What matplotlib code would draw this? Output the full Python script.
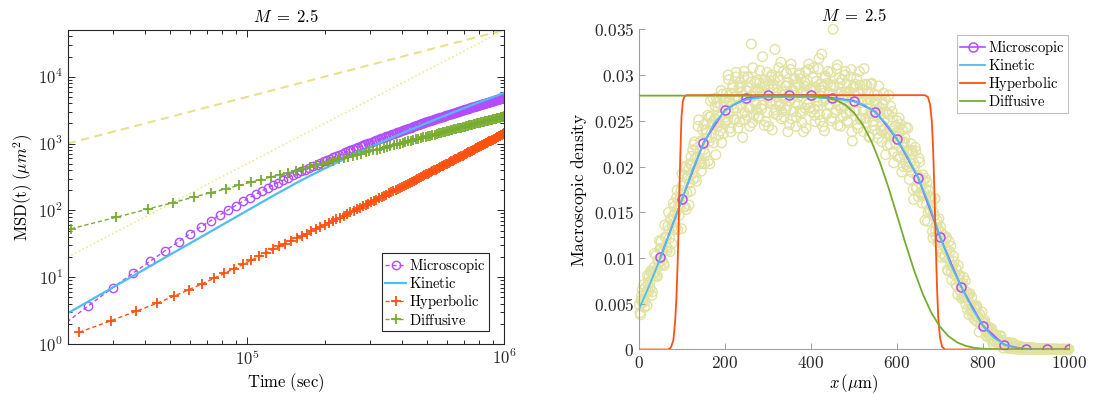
import numpy as np
import matplotlib
matplotlib.use("Agg")
import matplotlib.pyplot as plt
from matplotlib.ticker import FixedLocator, FuncFormatter, LogLocator, NullFormatter

plt.rcParams['mathtext.fontset'] = 'cm'
plt.rcParams['axes.formatter.use_mathtext'] = True

# ---------------- left panel: MSD(t), log-log ----------------
# microscopic MSD, sampled every 6000 s starting at k = 3
micro_dt, micro_k0 = 6000, 3
micro_msd = [1.6, 3.7, 7.0, 11.6, 17.5, 25, 34, 45, 57, 70,
             85, 101, 118, 136, 155, 175, 196, 217, 240, 261,
             284, 308, 333, 358, 383, 408, 433, 459, 485, 512,
             540, 567, 594, 622, 650, 679, 708, 738, 768, 798,
             827, 856, 885, 915, 945, 975, 1005, 1037, 1068, 1099,
             1131, 1161, 1191, 1221, 1252, 1283, 1314, 1345, 1377, 1408,
             1440, 1473, 1505, 1537, 1570, 1602, 1635, 1668, 1701, 1734,
             1767, 1801, 1834, 1868, 1902, 1936, 1971, 2005, 2040, 2075,
             2110, 2143, 2176, 2208, 2241, 2274, 2307, 2340, 2373, 2406,
             2439, 2472, 2506, 2539, 2573, 2607, 2640, 2674, 2708, 2743,
             2777, 2811, 2845, 2878, 2911, 2944, 2976, 3009, 3042, 3075,
             3108, 3141, 3174, 3207, 3240, 3274, 3307, 3340, 3374, 3407,
             3441, 3475, 3508, 3542, 3575, 3609, 3643, 3677, 3711, 3745,
             3778, 3811, 3843, 3876, 3909, 3942, 3975, 4007, 4041, 4073,
             4106, 4139, 4172, 4205, 4239, 4272, 4305, 4338, 4372, 4405,
             4438, 4472, 4505, 4539, 4572, 4606, 4639, 4673, 4706, 4740,
             4773, 4808, 4841, 4875]

# hyperbolic MSD, every 7400 s starting at k = 3
hyper_dt, hyper_k0 = 7400, 3
hyper_msd = [1.5, 2.25, 3.1, 4.07, 5.2, 6.5, 7.95, 9.6, 11.4, 13.4,
             15.6, 18.0, 20.5, 23.2, 26.0, 28.9, 31.8, 34.8, 38.1, 41.5,
             45.0, 48.7, 52.4, 56.4, 60.5, 64.7, 69.1, 73.5, 78.2, 83.0,
             87.9, 93.0, 98.2, 103.6, 109.1, 114.8, 120.6, 126.5, 132.6, 138.8,
             145.2, 151.7, 158.4, 165.3, 172.3, 179.4, 186.7, 194.2, 201.9, 209.7,
             217.6, 225.7, 233.9, 242.3, 250.7, 259.4, 268.1, 277.0, 286.2, 295.5,
             305.0, 314.6, 324.4, 334.4, 344.4, 354.7, 365.0, 375.5, 386.0, 397.0,
             408.0, 419.2, 430.5, 442.0, 453.7, 465.5, 477.4, 489.5, 501.7, 514.2,
             526.9, 539.7, 552.6, 565.7, 578.9, 592.3, 605.9, 619.6, 633.6, 647.7,
             662.0, 676.4, 691.0, 705.7, 720.7, 735.7, 751.0, 766.4, 782.0, 797.8,
             813.8, 829.9, 846.2, 862.6, 879.2, 896.0, 912.9, 930.3, 947.7, 965.2,
             982.9, 1000.7, 1018.8, 1036.9, 1055.2, 1073.7, 1092.4, 1111.0, 1130.1, 1149.4,
             1168.9, 1188.5, 1208.3, 1228.3, 1248.4, 1268.8, 1289.3, 1310.0, 1330.8, 1351.7,
             1372.9, 1394.3, 1415.7]

# diffusive MSD, every 10300 s starting at k = 2
diff_dt, diff_k0 = 10300, 2
diff_msd = [53, 79, 105, 131, 158, 184, 210, 236, 263, 289,
            315, 342, 368, 394, 420, 447, 473, 499, 525, 552,
            578, 604, 631, 657, 683, 709, 736, 762, 788, 814,
            841, 867, 893, 920, 946, 972, 998, 1025, 1051, 1077,
            1103, 1130, 1156, 1182, 1208, 1235, 1261, 1287, 1314, 1340,
            1366, 1392, 1419, 1445, 1471, 1497, 1524, 1550, 1576, 1602,
            1629, 1655, 1681, 1708, 1734, 1760, 1786, 1813, 1839, 1865,
            1891, 1918, 1944, 1970, 1997, 2023, 2049, 2075, 2102, 2128,
            2154, 2180, 2207, 2233, 2259, 2286, 2312, 2338, 2364, 2391,
            2417, 2443, 2469, 2496, 2522, 2548]

# kinetic MSD (solid curve)
kin_time = [2e4, 25119, 31623, 39811, 50119, 63096, 79433, 1e5, 125893,
            158489, 199526, 251189, 316228, 398107, 501187, 630957, 794328, 1e6]
kin_msd = [2.88, 4.77, 7.91, 13.1, 21.8, 36.1, 60.0, 99.5, 165,
           269, 422, 646, 966, 1413, 2042, 2917, 4121, 5754]

# guide lines ~t and ~t^2
guide_time = [2e4, 1e6]
guide_lin = [1e3, 5e4]
guide_quad = [20, 5e4]

# ---------------- right panel: density profile ----------------
micro_x = [50, 100, 150, 200, 250, 300, 350, 400, 450, 500,
           550, 600, 650, 700, 750, 800, 850, 900, 950, 1000]
micro_rho = [0.0101, 0.0164, 0.0226, 0.0262, 0.0275, 0.0278, 0.0278, 0.0278, 0.0275, 0.0272,
             0.0260, 0.0230, 0.0187, 0.0123, 0.0068, 0.0026, 0.0005, 0.0, 0.0, 0.0]

kin_x = [0, 25, 50, 75, 100, 125, 150, 175, 200, 225, 250, 275, 300,
         350, 400, 450, 475, 500, 525, 550, 575, 600, 625, 650, 675, 700,
         725, 750, 775, 800, 825, 850, 875, 900, 950, 1000]
kin_rho = [0.0044, 0.0071, 0.0100, 0.0132, 0.0164, 0.0197, 0.0225, 0.0247, 0.0261, 0.0269,
           0.0273, 0.0275, 0.0276, 0.0276, 0.0276, 0.0274, 0.0273, 0.0271, 0.0267, 0.0259,
           0.0247, 0.0230, 0.0210, 0.0187, 0.0158, 0.0124, 0.0093, 0.0068, 0.0045, 0.0026,
           0.0013, 0.00055, 0.0002, 0.00007, 0.00001, 0.0]

hyp_x = [0, 68, 74, 80, 84, 87, 90, 93, 96, 99, 102, 105, 110,
         665, 672, 677, 681, 684, 687, 690, 693, 696, 700, 705, 712, 1000]
hyp_rho = [0, 0, 0.0002, 0.001, 0.003, 0.0055, 0.0095, 0.015, 0.021, 0.0255, 0.0271, 0.0276, 0.0278,
           0.0278, 0.0276, 0.0268, 0.025, 0.022, 0.0175, 0.012, 0.007, 0.0035, 0.0013, 0.0003, 0, 0]

dif_x = [0, 400, 430, 460, 480, 500, 520, 540, 560, 580, 600, 620,
         640, 660, 680, 700, 720, 740, 760, 780, 800, 850, 900, 1000]
dif_rho = [0.02775, 0.02775, 0.02762, 0.02724, 0.02673, 0.02589, 0.02461, 0.02282, 0.02051,
           0.01774, 0.01468, 0.01156, 0.00863, 0.00607, 0.00401, 0.00249, 0.00144, 0.00078,
           0.00039, 0.00018, 0.00008, 0.00001, 0, 0]

# raw particle histogram (units of 1e-4), two interleaved samplings every 2.5 um
cloud_step = 2.5
cloud_a_x0 = 1.25
cloud_a_e4 = [49, 38, 59, 51, 71, 53, 62, 48, 72, 80,
              67, 84, 63, 83, 105, 85, 80, 98, 95, 110,
              118, 97, 108, 92, 123, 122, 111, 150, 122, 142,
              116, 146, 156, 139, 133, 174, 156, 147, 165, 132,
              179, 171, 156, 198, 171, 190, 158, 203, 211, 192,
              186, 227, 209, 184, 210, 251, 208, 228, 203, 227,
              246, 214, 240, 231, 206, 254, 272, 232, 249, 226,
              252, 213, 270, 265, 248, 239, 283, 258, 236, 272,
              254, 280, 251, 295, 272, 238, 268, 289, 264, 251,
              303, 264, 274, 249, 287, 281, 232, 298, 259, 273,
              256, 298, 286, 264, 334, 248, 280, 270, 292, 262,
              285, 255, 305, 277, 267, 291, 245, 295, 279, 259,
              244, 284, 272, 300, 290, 258, 328, 270, 276, 298,
              294, 266, 252, 282, 304, 274, 262, 288, 238, 280,
              272, 312, 284, 260, 278, 296, 254, 268, 290, 302,
              296, 248, 280, 288, 264, 242, 294, 306, 270, 284,
              260, 282, 308, 256, 286, 276, 266, 318, 250, 290,
              287, 271, 239, 297, 257, 291, 281, 267, 303, 253,
              350, 287, 275, 262, 311, 267, 297, 244, 281, 274,
              278, 300, 258, 290, 248, 282, 270, 306, 228, 288,
              261, 270, 296, 242, 281, 289, 253, 272, 262, 307,
              290, 248, 273, 280, 232, 259, 291, 249, 262, 240,
              256, 278, 231, 264, 257, 239, 268, 280, 241, 213,
              259, 237, 278, 224, 234, 260, 216, 234, 244, 237,
              211, 238, 229, 246, 194, 226, 213, 231, 243, 200,
              216, 186, 218, 194, 217, 164, 200, 217, 177, 190,
              209, 186, 170, 160, 185, 171, 187, 159, 140, 174,
              152, 167, 157, 122, 146, 165, 123, 141, 131, 119,
              134, 101, 116, 118, 101, 121, 108, 86, 118, 92,
              85, 92, 102, 82, 71, 87, 60, 80, 81, 70,
              69, 57, 60, 75, 63, 44, 60, 51, 44, 57,
              36, 46, 47, 36, 46, 36, 19, 38, 27, 31,
              29, 32, 20, 22, 14, 21, 23, 12, 17, 6,
              11, 15, 15, 7, 11, 8, 15, 5, 7, 6,
              7.6, 3.8, 5.3, 7.8, 0.9, 5.0, 3.0, 0.8, 5.3, 3.1,
              0.6, 2.1, 4.1, 0.9, 2.5, 0.1, 1.9, 2.5, 0.6, 1.8,
              1.2, 1.6, 0.0, 0.5, 2.3, 0.1, 0.8, 0.0, 1.3, 0.7,
              0.1, 0.6, 0.4, 0.0, 0.7, 0.3, 0.0, 1.0, 0.2, 0.0,
              0.5, 0.0, 0.3, 0.1, 0.0, 0.6, 0.0, 0.2, 0.4, 0.0,
              0.0, 0.3, 0.0, 0.2, 0.1, 0.4, 0.0, 0.2, 0.1, 0.3]
cloud_b_x0 = 2.5
cloud_b_e4 = [40, 54, 65, 53, 46, 68, 63, 81, 63, 74,
              86, 59, 82, 90, 81, 103, 80, 95, 119, 92,
              111, 106, 94, 136, 112, 108, 135, 131, 107, 142,
              134, 160, 131, 149, 166, 131, 163, 155, 174, 192,
              171, 156, 200, 153, 187, 197, 182, 173, 202, 218,
              224, 199, 188, 220, 244, 203, 218, 195, 240, 218,
              203, 240, 237, 256, 227, 203, 255, 246, 274, 245,
              266, 275, 244, 234, 254, 267, 226, 279, 265, 248,
              250, 267, 300, 258, 242, 280, 286, 252, 276, 298,
              277, 242, 286, 292, 267, 258, 278, 304, 251, 283,
              298, 264, 244, 292, 276, 308, 256, 282, 268, 294,
              253, 291, 281, 263, 320, 273, 287, 249, 303, 275,
              290, 270, 298, 240, 286, 294, 262, 280, 256, 308,
              268, 314, 260, 278, 254, 288, 302, 266, 292, 246,
              306, 252, 284, 296, 270, 244, 290, 276, 300, 260,
              258, 282, 238, 292, 304, 280, 268, 312, 264, 286,
              277, 297, 263, 249, 293, 271, 307, 257, 283, 323,
              244, 287, 299, 274, 258, 304, 268, 288, 250, 278,
              289, 259, 271, 307, 245, 279, 291, 263, 295, 255,
              266, 304, 282, 250, 276, 260, 298, 238, 286, 280,
              290, 262, 246, 281, 304, 251, 270, 284, 238, 273,
              253, 289, 269, 233, 273, 290, 258, 245, 279, 271,
              267, 236, 288, 260, 244, 227, 268, 251, 273, 236,
              223, 257, 236, 266, 239, 254, 204, 243, 224, 250,
              233, 253, 210, 218, 240, 200, 227, 205, 216, 242,
              199, 204, 225, 214, 175, 203, 221, 176, 189, 167,
              205, 172, 180, 191, 168, 141, 175, 183, 150, 167,
              152, 164, 129, 150, 165, 130, 137, 117, 143, 118,
              128, 105, 125, 103, 112, 123, 87, 99, 107, 113,
              76, 92, 96, 82, 88, 69, 92, 76, 64, 56,
              73, 79, 57, 50, 58, 60, 38, 61, 48, 42,
              41, 33, 44, 48, 30, 34, 38, 27, 41, 29,
              30, 24, 15, 23, 25, 15, 16, 23, 9, 17,
              9.7, 16.2, 12.2, 6.8, 9.6, 14.3, 6.3, 9.9, 1.6, 6.6,
              6.3, 4.1, 7.2, 1.6, 5.4, 3.9, 1.2, 7.1, 2.4, 0.9,
              1.2, 2.6, 0.4, 1.9, 3.2, 0.8, 1.5, 0.3, 2.0, 1.1,
              0.3, 1.0, 1.8, 0.0, 0.6, 0.2, 1.4, 0.5, 0.0, 0.9,
              0.4, 0.0, 0.8, 0.2, 0.0, 0.5, 0.1, 0.0, 0.6, 0.2,
              0.0, 0.2, 0.0, 0.4, 0.1, 0.0, 0.3, 0.0, 0.1, 0.2,
              0.2, 0.0, 0.1, 0.0, 0.3, 0.0, 0.1, 0.2, 0.0, 0.1]

labels = ['Microscopic', 'Kinetic', 'Hyperbolic', 'Diffusive']
c_micro = '#B34DFF'
c_kin = '#4DBEEE'
c_hyp = '#FF5210'
c_dif = '#77AC30'
c_guide = '#E6E28C'
c_cloud = '#E2E2A2'
title_txt = r'$M\;=\;2.5$'


def sample_times(dt, k0, vals):
    return dt * np.arange(k0, k0 + len(vals))


def mtext(s):
    return r'$\mathrm{' + s.replace(' ', r'\ ') + '}$'


fig = plt.figure(figsize=(10.93, 3.95), dpi=100)

# ---- left: MSD ----
ax1 = fig.add_axes([0.0619, 0.129, 0.3995, 0.795])
ax1.set_xscale('log')
ax1.set_yscale('log')
ax1.plot(guide_time, guide_lin, color=c_guide, lw=1.5, dashes=(4, 2.6))
ax1.plot(guide_time, guide_quad, color='#EAEA96', lw=1.2, linestyle=(0, (1, 1.5)))

ax1.plot(sample_times(micro_dt, micro_k0, micro_msd), micro_msd, color=c_micro,
         lw=1, linestyle=(0, (3, 2)), marker='o', ms=6, mfc='none', mew=1,
         label=labels[0])
ax1.plot(kin_time, kin_msd, color=c_kin, lw=1.6, label=labels[1])
ax1.plot(sample_times(hyper_dt, hyper_k0, hyper_msd), hyper_msd, color=c_hyp,
         lw=1, linestyle=(0, (3, 2)), marker='+', ms=6.5, mew=1.3, label=labels[2])
ax1.plot(sample_times(diff_dt, diff_k0, diff_msd), diff_msd, color=c_dif,
         lw=1, linestyle=(0, (3, 2)), marker='+', ms=6.5, mew=1.3, label=labels[3])

ax1.set_xlim(2e4, 1e6)
ax1.set_ylim(1, 5e4)
ax1.xaxis.set_major_locator(FixedLocator([1e5, 1e6]))
ax1.xaxis.set_minor_locator(LogLocator(base=10, subs=np.arange(2, 10)))
ax1.yaxis.set_major_locator(FixedLocator([1, 10, 100, 1e3, 1e4]))
ax1.yaxis.set_minor_locator(LogLocator(base=10, subs=np.arange(2, 10), numticks=20))
sf_log = FuncFormatter(lambda v, _: r'$\mathsf{10^{%d}}$' % round(np.log10(v)))
ax1.xaxis.set_major_formatter(sf_log)
ax1.yaxis.set_major_formatter(sf_log)
ax1.xaxis.set_minor_formatter(NullFormatter())
ax1.yaxis.set_minor_formatter(NullFormatter())
ax1.tick_params(which='both', direction='in', top=True, right=True,
                colors='#262626', labelsize=12, width=0.7)
ax1.tick_params(which='major', length=5)
ax1.tick_params(which='minor', length=3)
for sp in ax1.spines.values():
    sp.set_color('#262626')
    sp.set_linewidth(0.8)
ax1.set_xlabel(mtext('Time (sec)'), fontsize=12, labelpad=2)
ax1.set_ylabel(mtext('MSD(t)') + r'$\ (\mu m^2)$', fontsize=12, labelpad=2)
ax1.set_title(title_txt, fontsize=12, pad=6)
leg1 = ax1.legend(loc='lower right', bbox_to_anchor=(0.965, 0.041), borderaxespad=0,
                  prop={'size': 10.5}, handlelength=1.4, handletextpad=0.2,
                  labelspacing=0.08, borderpad=0.25, fancybox=False, framealpha=1)
leg1.get_frame().set_edgecolor('#262626')
leg1.get_frame().set_linewidth(0.8)
for t in leg1.get_texts():
    t.set_text(mtext(t.get_text()))

# ---- right: density profile ----
ax2 = fig.add_axes([0.5846, 0.1152, 0.3934, 0.8106])
for x0, vals in [(cloud_a_x0, cloud_a_e4), (cloud_b_x0, cloud_b_e4)]:
    cx = x0 + cloud_step * np.arange(len(vals))
    ax2.scatter(cx, np.array(vals) * 1e-4, s=48, facecolors='none',
                edgecolors=c_cloud, linewidths=1.0, zorder=1, clip_on=False)
ax2.plot(micro_x, micro_rho, color=c_micro, lw=1.2, marker='o', ms=6.5, mfc='none',
         mew=1.1, label=labels[0], zorder=3)
ax2.plot(kin_x, kin_rho, color=c_kin, lw=1.3, label=labels[1], zorder=4)
ax2.plot(hyp_x, hyp_rho, color=c_hyp, lw=1.3, label=labels[2], zorder=5)
ax2.plot(dif_x, dif_rho, color=c_dif, lw=1.3, label=labels[3], zorder=6)

ax2.set_xlim(0, 1000)
ax2.set_ylim(0, 0.035)
ax2.set_xticks([0, 200, 400, 600, 800, 1000])
ax2.set_yticks([0, 0.005, 0.01, 0.015, 0.02, 0.025, 0.03, 0.035])
cm_fmt = FuncFormatter(lambda v, _: '$%s$' % ('%g' % round(v, 4)))
ax2.xaxis.set_major_formatter(cm_fmt)
ax2.yaxis.set_major_formatter(cm_fmt)
ax2.spines['top'].set_visible(False)
ax2.spines['right'].set_visible(False)
for side in ['left', 'bottom']:
    ax2.spines[side].set_color('#a0a0a0')
    ax2.spines[side].set_linewidth(0.8)
ax2.tick_params(direction='in', length=4, width=0.7, color='#a0a0a0',
                labelcolor='#262626', labelsize=12.5)
ax2.set_xlabel(r'$x\,(\mu\mathrm{m})$', fontsize=12, labelpad=0)
ax2.set_ylabel(mtext('Macroscopic density'), fontsize=12.5, labelpad=3)
ax2.set_title(title_txt, fontsize=12, pad=6)
leg2 = ax2.legend(loc='upper right', bbox_to_anchor=(0.998, 0.982), borderaxespad=0,
                  prop={'size': 10.5}, handlelength=1.7, handletextpad=0.2,
                  labelspacing=0.08, borderpad=0.25, fancybox=False, framealpha=1)
leg2.get_frame().set_edgecolor('#c0c0c0')
leg2.get_frame().set_linewidth(0.8)
for t in leg2.get_texts():
    t.set_text(mtext(t.get_text()))

fig.savefig('out.png', dpi=100)
